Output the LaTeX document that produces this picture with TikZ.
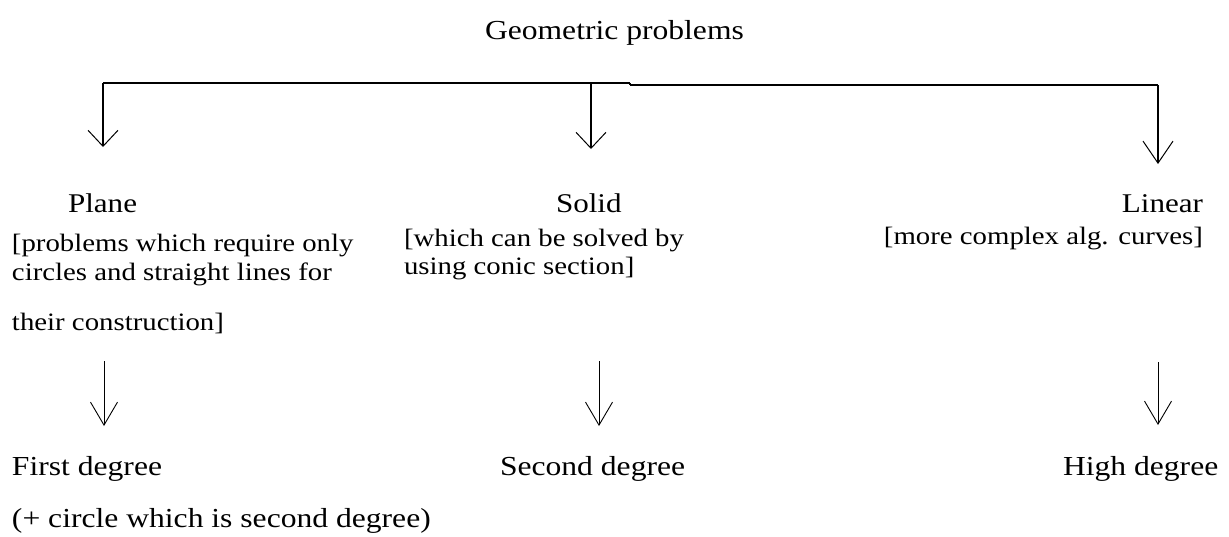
\documentclass[tikz,border=0pt]{standalone}
\usepackage{fontspec}
\setmainfont{Liberation Serif}
\usetikzlibrary{arrows.meta}
\begin{document}
\begin{tikzpicture}[x=1pt,y=-1pt,
  bigtxt/.style={font=\fontsize{31.6}{36}\selectfont, yscale=0.87, inner sep=0pt, outer sep=0pt, anchor=base west},
  headtxt/.style={font=\fontsize{31.1}{36}\selectfont, yscale=0.87, inner sep=0pt, outer sep=0pt, anchor=base west},
  notetxt/.style={font=\fontsize{28.8}{33}\selectfont, yscale=0.87, inner sep=0pt, outer sep=0pt, anchor=base west},
  wire/.style={line width=1.1pt, black},
  tipA/.style={-{Straight Barb[length=16pt,width=30pt,line width=1pt]}},
  tipB/.style={-{Straight Barb[length=23pt,width=27pt,line width=0.9pt]}},
  thin/.style={line width=0.9pt, black}]
\useasboundingbox (0,0) rectangle (1229,536);
\fill[white] (0,0) rectangle (1229,536);

% texts
\node[bigtxt] (title) at (485,39) {Geometric problems};

\node[headtxt] (plane) at (68,212) {Plane};
\node[headtxt] (solid) at (556,212) {Solid};
\node[headtxt, anchor=base east] (linear) at (1203,212) {Linear};

\node[notetxt] (p1) at (12,251) {[problems which require only};
\node[notetxt] (p2) at (12,280) {circles and straight lines for};
\node[notetxt] (p3) at (12,330) {their construction]};

\node[notetxt] (s1) at (404,246) {[which can be solved by};
\node[notetxt] (s2) at (404,274) {using conic section]};

\node[notetxt, anchor=base east] (l1) at (1203,244) {[more complex alg. curves]};

\node[bigtxt] (first) at (12,475) {First degree};
\node[bigtxt] (second) at (500,475) {Second degree};
\node[bigtxt] (high) at (1063,475) {High degree};
\node[bigtxt] (circ) at (12,527) {(+ circle which is second degree)};

% top bracket
\coordinate (jl) at (103,83);
\coordinate (jm) at (591,83);
\coordinate (js) at (630,83);
\coordinate (js2) at (630,85);
\coordinate (jr) at (1158,85);
\coordinate (t1) at (103,147);
\coordinate (t2) at (591,149);
\coordinate (t3) at (1158,164);

\draw[wire] (js) -- (jl);
\draw[wire] (js2) -- (jr);
\draw[wire] (js) -- (js2);
\draw[wire, tipA] (jl) -- (t1);
\draw[wire, tipA] (jm) -- (t2);
\draw[wire, -{Straight Barb[length=22pt,width=30pt,line width=1pt]}] (jr) -- (t3);

% lower arrows
\coordinate (u1) at (104,361);
\coordinate (u2) at (599,361);
\coordinate (u3) at (1158,362);
\coordinate (d1) at (104,426);
\coordinate (d2) at (599,426);
\coordinate (d3) at (1158,425);
\draw[thin, tipB] (u1) -- (d1);
\draw[thin, tipB] (u2) -- (d2);
\draw[thin, tipB] (u3) -- (d3);
\end{tikzpicture}
\end{document}
